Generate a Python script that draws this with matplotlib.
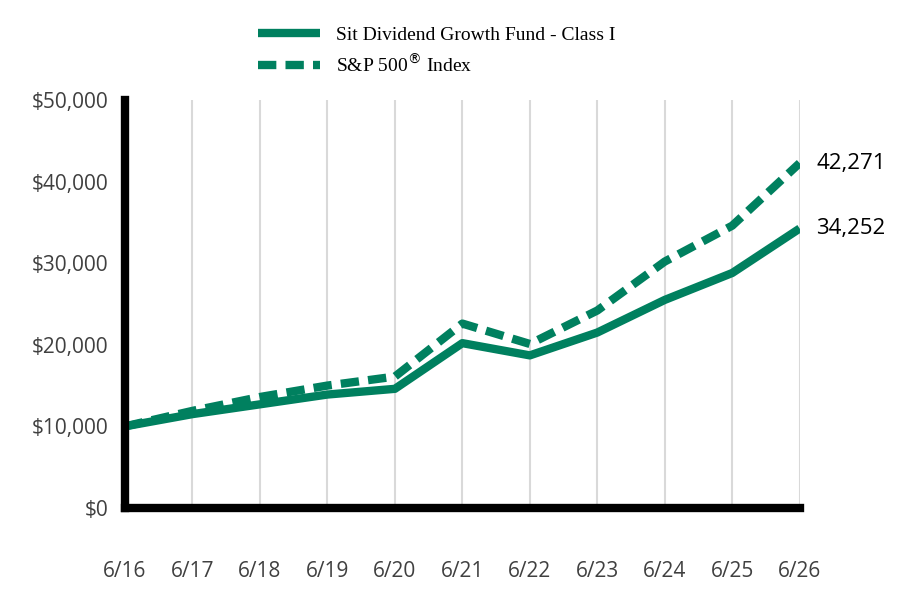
import matplotlib
matplotlib.use("Agg")
import matplotlib.pyplot as plt

labels = ["6/16","6/17","6/18","6/19","6/20","6/21","6/22","6/23","6/24","6/25","6/26"]
fund = [10000, 11500, 12700, 13900, 14600, 20200, 18700, 21500, 25500, 28800, 34252]
spx = [10000, 11900, 13600, 15000, 16100, 22600, 20100, 24200, 30200, 34600, 42271]
yticks = [0, 10000, 20000, 30000, 40000, 50000]
color = "#00805F"

fig = plt.figure(figsize=(9.08, 5.92), dpi=100)
ax = fig.add_axes([0.1377, 0.142, 0.743, 0.689])
x = list(range(len(labels)))
ax.plot(x, fund, color=color, lw=6, label="Sit Dividend Growth Fund - Class I", solid_capstyle="butt")
ax.plot(x, spx, color=color, lw=6, ls=(0, (2.2, 1.1)), label="S&P 500$^{®}$ Index")
ax.set_xlim(0, 10)
ax.set_ylim(0, 50000)
ax.set_xticks(x)
ax.set_xticklabels(labels)
ax.set_yticks(yticks)
ax.set_yticklabels([f"${v:,}" for v in yticks])
for xi in x[1:]:
    ax.axvline(xi, color="#d9d9d9", lw=1.5, zorder=0)
for s in ["top", "right"]:
    ax.spines[s].set_visible(False)
for s in ["left", "bottom"]:
    ax.spines[s].set_linewidth(6)
    ax.spines[s].set_color("black")
ax.tick_params(length=0, labelsize=15, labelcolor="#404040")
ax.tick_params(axis="x", pad=38)
ax.tick_params(axis="y", pad=12)
for t in ax.get_xticklabels() + ax.get_yticklabels():
    t.set_fontfamily("Open Sans")
ax.annotate(f"{spx[-1]:,}", (10, spx[-1]), xytext=(12, 0), textcoords="offset points",
            va="center", fontsize=16, fontfamily="Open Sans", annotation_clip=False)
ax.annotate(f"{fund[-1]:,}", (10, fund[-1]), xytext=(12, 0), textcoords="offset points",
            va="center", fontsize=16, fontfamily="Open Sans", annotation_clip=False)
leg = fig.legend(loc="upper left", bbox_to_anchor=(0.265, 0.985), frameon=False,
                 prop={"family": "Liberation Serif", "size": 14}, handlelength=3.2, labelspacing=0.5)
fig.savefig("out.png", dpi=100)
